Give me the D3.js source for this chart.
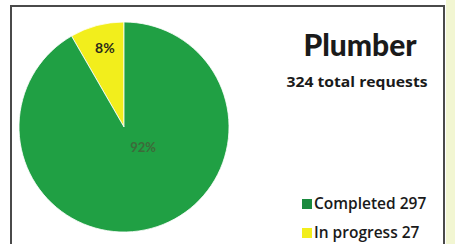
<!DOCTYPE html>
<html><head><meta charset="utf-8">
<script src="https://cdn.jsdelivr.net/npm/d3@7"></script>
<style>html,body{margin:0;padding:0;background:#fff;}svg{display:block;}</style>
</head><body>
<script>
const categories = ["In progress", "Completed"];
const values = [27, 297];
const percentLabels = ["8%", "92%"];
const legendLabels = ["Completed 297", "In progress 27"];
const legendColors = ["#1a8a3e", "#f2ee1c"];
const colors = {"In progress": "#f2ee1c", "Completed": "#20a044"};
const title = "Plumber";
const subtitle = "324 total requests";

const W = 455, H = 244;
const svg = d3.select("body").append("svg").attr("width", W).attr("height", H);

svg.append("rect").attr("x", 446).attr("y", 0).attr("width", 9).attr("height", H).attr("fill", "#f2f6d2");
svg.append("rect").attr("x", 11).attr("y", 6).attr("width", 433).attr("height", 250)
  .attr("fill", "#fff").attr("stroke", "#4a4a4a").attr("stroke-width", 2);

const cx = 124, cy = 127, R = 105;
const g = svg.append("g").attr("transform", `translate(${cx},${cy})`);
const pie = d3.pie().sort(null).value(d => d.v).startAngle(0).endAngle(-2 * Math.PI);
const data = categories.map((c, i) => ({c, v: values[i], label: percentLabels[i]}));
const arcs = pie(data);
const arc = d3.arc().innerRadius(0).outerRadius(R);
g.selectAll("path").data(arcs).enter().append("path")
  .attr("d", arc).attr("fill", d => colors[d.data.c]).attr("stroke", "#fff").attr("stroke-width", 0.8);

const labelArc = d3.arc().innerRadius(R * 0.78).outerRadius(R * 0.78);
g.append("text").attr("x", labelArc.centroid(arcs[0])[0] + 2).attr("y", labelArc.centroid(arcs[0])[1] + 5)
  .attr("text-anchor", "middle").attr("font-family", "Lato, sans-serif").attr("font-weight", "bold")
  .attr("font-size", 14).attr("fill", "#2a2a1a").text(arcs[0].data.label);
g.append("text").attr("x", 19).attr("y", 25)
  .attr("text-anchor", "middle").attr("font-family", "Lato, sans-serif").attr("font-weight", "bold")
  .attr("font-size", 13).attr("fill", "#3d6a3a").text(arcs[1].data.label);

svg.append("text").attr("x", 360).attr("y", 56).attr("text-anchor", "middle")
  .attr("font-family", "Lato, sans-serif").attr("font-weight", "900").attr("font-size", 30)
  .attr("fill", "#1a1a1a").text(title);
svg.append("text").attr("x", 357).attr("y", 87).attr("text-anchor", "middle")
  .attr("font-family", "'Open Sans', sans-serif").attr("font-weight", "bold").attr("font-size", 14)
  .attr("textLength", 141).attr("lengthAdjust", "spacingAndGlyphs")
  .attr("fill", "#1a1a1a").text(subtitle);

const lg = svg.append("g");
legendLabels.forEach((t, i) => {
  const y = 199 + i * 29;
  lg.append("rect").attr("x", 302).attr("y", y).attr("width", 10).attr("height", 10).attr("fill", legendColors[i]);
  lg.append("text").attr("x", 314).attr("y", y + 10).attr("font-family", "'Open Sans', sans-serif")
    .attr("font-weight", "600").attr("font-size", 15.5).attr("fill", "#1a1a1a").text(t);
});
</script>
</body></html>
